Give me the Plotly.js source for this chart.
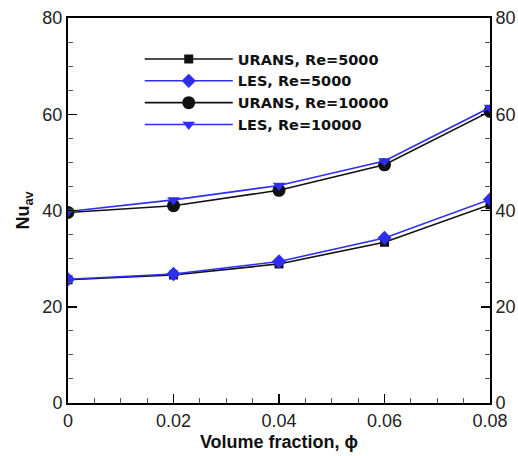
<!DOCTYPE html>
<html>
<head>
<meta charset="utf-8">
<script src="https://cdn.plot.ly/plotly-3.0.1.min.js"></script>
<style>html,body{margin:0;padding:0;background:#fff;}#chart{width:518px;height:456px;}</style>
</head>
<body>
<div id="chart"></div>
<script>
const phi = [0, 0.02, 0.04, 0.06, 0.08];
const uransRe5000 = [25.6, 26.6, 28.9, 33.4, 41.2];
const lesRe5000 = [25.7, 26.8, 29.4, 34.3, 42.3];
const uransRe10000 = [39.6, 41.0, 44.2, 49.5, 60.6];
const lesRe10000 = [39.8, 42.2, 45.2, 50.3, 61.4];
const seriesNames = ["URANS, Re=5000", "LES, Re=5000", "URANS, Re=10000", "LES, Re=10000"];

const black = "#111111", blue = "#2d2df5";
function tr(y, name, color, symbol, size) {
  return {x: phi, y: y, name: name, type: "scatter", mode: "lines+markers",
    line: {color: color, width: 1.6}, marker: {symbol: symbol, size: size, color: color}};
}
const data = [
  tr(uransRe5000, seriesNames[0], black, "square", 9),
  tr(lesRe5000, seriesNames[1], blue, "diamond", 11),
  tr(uransRe10000, seriesNames[2], black, "circle", 13),
  tr(lesRe10000, seriesNames[3], blue, "triangle-down", 11),
  // invisible copy so the mirrored right-hand axis is drawn
  {x: phi, y: uransRe5000, yaxis: "y2", type: "scatter", mode: "markers", showlegend: false,
   marker: {opacity: 0}, hoverinfo: "skip"}
];
const tickFont = {family: "Liberation Sans, Arial, sans-serif", size: 18, color: "#222"};
const layout = {
  width: 518, height: 456,
  margin: {l: 68, r: 28, t: 18, b: 53},
  paper_bgcolor: "#fff", plot_bgcolor: "#fff",
  showlegend: true,
  legend: {x: 0.170, y: 0.935, xanchor: "left", yanchor: "top", bgcolor: "rgba(0,0,0,0)",
    font: {family: "DejaVu Sans, sans-serif", size: 14.5, color: "#111", weight: "bold"},
    itemwidth: 88, tracegroupgap: 0},
  xaxis: {range: [0, 0.08], tickvals: [0, 0.02, 0.04, 0.06, 0.08], ticktext: ["0", "0.02", "0.04", "0.06", "0.08"],
    showgrid: false, zeroline: false, showline: true, linecolor: "#000", linewidth: 2, mirror: true,
    ticks: "inside", ticklen: 9, tickwidth: 1.5, tickcolor: "#000",
    minor: {dtick: 0.005, ticks: "inside", ticklen: 5, tickcolor: "#555", tickwidth: 1},
    tickfont: tickFont,
    title: {text: "Volume fraction, \u03d5", font: {family: "Liberation Sans, Arial, sans-serif", size: 18, color: "#111", weight: "bold"}, standoff: 6}},
  yaxis: {range: [0, 80], dtick: 20, showgrid: false, zeroline: false, showline: true, linecolor: "#000", linewidth: 2,
    ticks: "inside", ticklen: 9, tickwidth: 1.5, tickcolor: "#000",
    minor: {dtick: 5, ticks: "inside", ticklen: 5, tickcolor: "#555", tickwidth: 1},
    tickfont: tickFont,
    title: {text: "Nu<sub>av</sub>", font: {family: "Liberation Sans, Arial, sans-serif", size: 18, color: "#111", weight: "bold"}, standoff: 8}},
  yaxis2: {range: [0, 80], dtick: 20, overlaying: "y", side: "right", showgrid: false, zeroline: false,
    showline: true, linecolor: "#000", linewidth: 2,
    ticks: "inside", ticklen: 9, tickwidth: 1.5, tickcolor: "#000",
    minor: {dtick: 5, ticks: "inside", ticklen: 5, tickcolor: "#555", tickwidth: 1},
    tickfont: tickFont}
};
Plotly.newPlot("chart", data, layout, {displayModeBar: false, staticPlot: true});
</script>
</body>
</html>
